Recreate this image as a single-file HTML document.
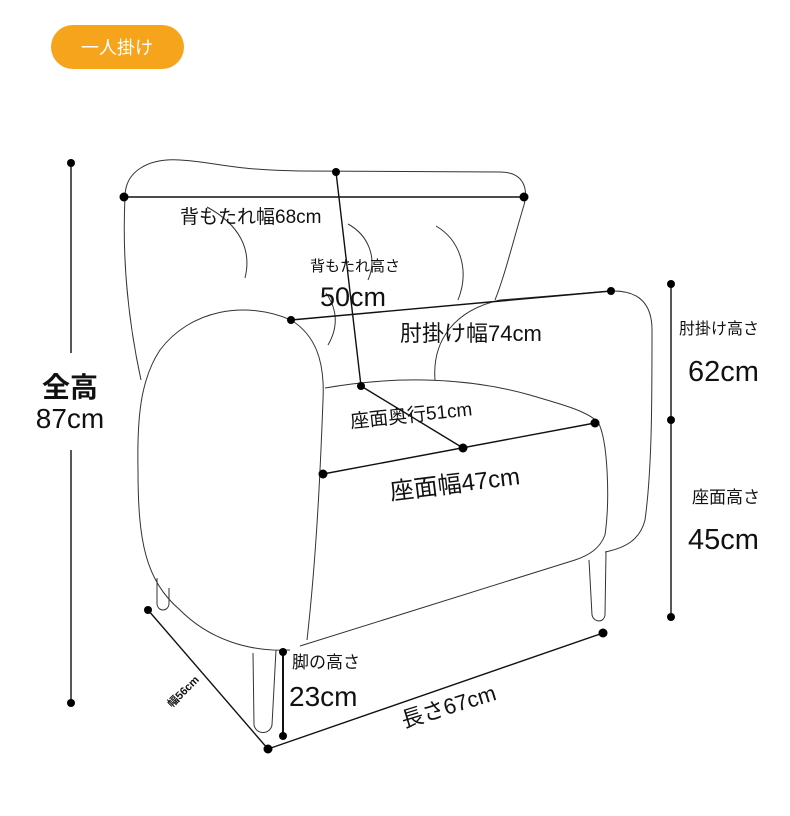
<!DOCTYPE html>
<html><head><meta charset="utf-8"><style>
html,body{margin:0;padding:0;background:#fff;}
svg{display:block}
text{font-family:"Liberation Sans","Noto Sans CJK JP",sans-serif;fill:#111}
</style></head><body>
<svg width="790" height="816" viewBox="0 0 790 816" xmlns="http://www.w3.org/2000/svg">
<rect x="51" y="25" width="133" height="44" rx="22" fill="#F7A41D"/>
<text x="117" y="54" font-size="18" text-anchor="middle" style="fill:#fff">一人掛け</text>

<g fill="none" stroke="#333" stroke-width="1">
<path d="M125,197 C125,170 150,158 180,160 C215,162 230,170 300,171 L500,172 C525,172 528,190 524,205 C512,245 505,275 495,300"/>
<path d="M125,197 C122,260 128,320 141,380"/>
<path d="M207,207 C240,225 252,250 245,278"/>
<path d="M348,224 C368,235 378,258 368,280"/>
<path d="M436,226 C460,240 470,270 458,300"/>
<path d="M326,293 C338,310 338,328 328,345"/>
<path d="M291,320 C245,300 190,310 160,350 C140,380 137,420 138,470 C138,540 145,580 180,610 C210,640 250,652 290,650"/>
<path d="M291,320 C315,335 325,360 323,400 C320,480 316,560 307,640"/>
<path d="M325,388 C400,375 470,378 530,395 C560,404 585,410 598,422 C608,440 610,500 605,535 C600,548 590,555 575,560 L300,646"/>
<path d="M435,380 C432,340 455,310 500,300 L611,291 C640,290 652,305 652,330 C652,400 652,470 645,520 C640,540 625,548 605,552"/>
<path d="M157,578 L157,604 C158,612 168,612 169,604 L169,588"/>
<path d="M253,653 L254,725 C256,735 270,735 272,725 L276,650"/>
<path d="M589,560 L592,615 C594,623 604,623 605,615 L606,552"/>
</g>

<g stroke="#111" stroke-width="1.4" fill="none">
<line x1="71" y1="163" x2="71" y2="353"/>
<line x1="71" y1="450" x2="71" y2="703"/>
<line x1="124" y1="197" x2="524" y2="197"/>
<line x1="336" y1="172" x2="361" y2="386"/>
<line x1="291" y1="320" x2="611" y2="291"/>
<line x1="671" y1="284" x2="671" y2="617"/>
<line x1="361" y1="386" x2="463" y2="448"/>
<line x1="323" y1="474" x2="595" y2="423"/>
<line x1="148" y1="610" x2="268" y2="749"/>
<line x1="268" y1="749" x2="603" y2="633"/>
<line x1="283" y1="652" x2="283" y2="736" stroke-width="2"/>
</g>
<g fill="#000">
<circle cx="71" cy="163" r="4"/><circle cx="71" cy="703" r="4"/>
<circle cx="124" cy="197" r="4.5"/><circle cx="524" cy="197" r="4.5"/>
<circle cx="336" cy="172" r="4"/><circle cx="361" cy="386" r="4"/>
<circle cx="291" cy="320" r="4"/><circle cx="611" cy="291" r="4"/>
<circle cx="671" cy="284" r="4"/><circle cx="671" cy="420" r="4"/><circle cx="671" cy="617" r="4"/>
<circle cx="463" cy="448" r="4.5"/><circle cx="323" cy="474" r="4.5"/><circle cx="595" cy="423" r="4.5"/>
<circle cx="148" cy="610" r="4"/><circle cx="268" cy="749" r="4.5"/><circle cx="603" cy="633" r="4.5"/>
<circle cx="283" cy="652" r="4"/><circle cx="283" cy="736" r="4"/>
</g>

<rect x="30" y="365" width="80" height="75" fill="#fff"/>
<text x="70" y="397" font-size="28" font-weight="bold" text-anchor="middle">全高</text>
<text x="70" y="428" font-size="28" text-anchor="middle">87cm</text>
<text x="180" y="223" font-size="19">背もたれ幅68cm</text>
<text x="310" y="271" font-size="15">背もたれ高さ</text>
<text x="320" y="306" font-size="27">50cm</text>
<text x="400" y="341" font-size="22">肘掛け幅74cm</text>
<text x="679" y="334" font-size="16">肘掛け高さ</text>
<rect x="683" y="350" width="90" height="38" fill="#fff"/>
<text x="688" y="381" font-size="29">62cm</text>
<rect x="683" y="482" width="90" height="70" fill="#fff"/>
<text x="692" y="503" font-size="17">座面高さ</text>
<text x="688" y="549" font-size="29">45cm</text>
<text x="351" y="428" font-size="19" transform="rotate(-6 351 428)">座面奥行51cm</text>
<text x="391" y="500" font-size="24" transform="rotate(-7 391 500)">座面幅47cm</text>
<text x="292" y="668" font-size="17">脚の高さ</text>
<text x="289" y="706" font-size="28">23cm</text>
<text x="404" y="728" font-size="22" transform="rotate(-17 404 728)">長さ67cm</text>
<text x="172" y="708" font-size="11" font-weight="bold" transform="rotate(-45 172 708)">幅56cm</text>
</svg>
</body></html>
